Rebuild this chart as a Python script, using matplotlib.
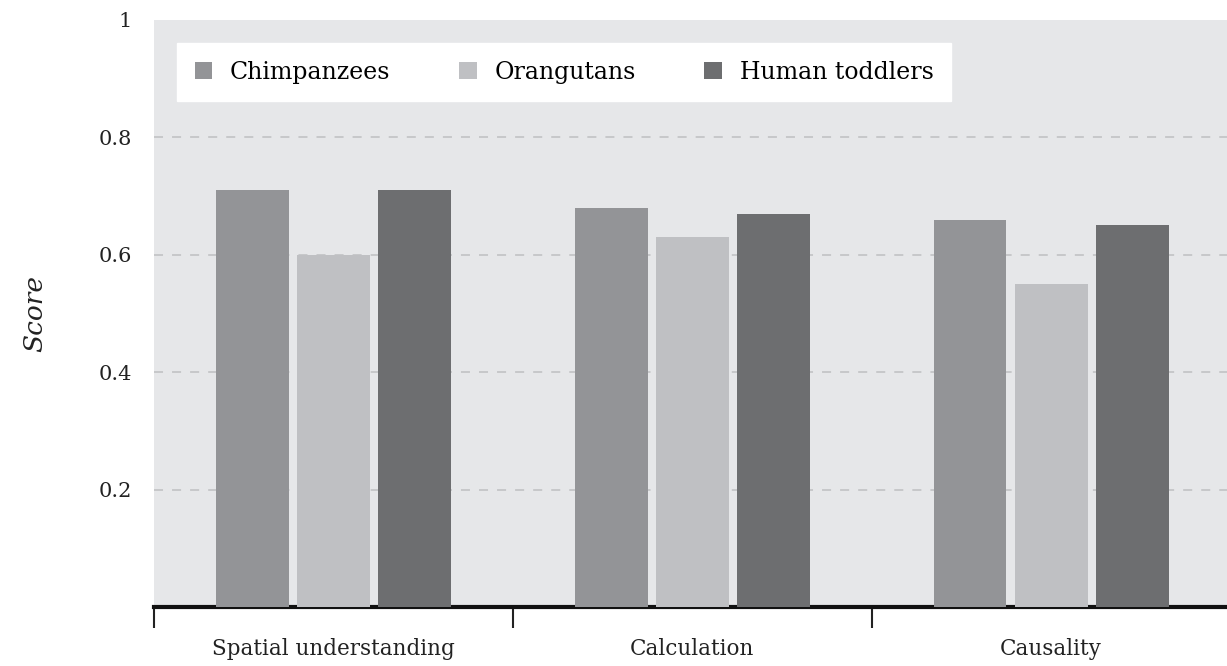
import numpy as np
import matplotlib.pyplot as plt
from matplotlib.patches import Patch

categories = ['Spatial understanding', 'Calculation', 'Causality']
series = ['Chimpanzees', 'Orangutans', 'Human toddlers']
chimps = [0.71, 0.68, 0.66]
orangs = [0.60, 0.63, 0.55]
humans = [0.71, 0.67, 0.65]
yticks = [0.2, 0.4, 0.6, 0.8, 1]

colors = ['#939497', '#bfc0c3', '#6d6e70']

plt.rcParams['font.family'] = ['DejaVu Serif']

fig = plt.figure(figsize=(12.27, 6.66), dpi=100)
ax = fig.add_axes([0.1255, 0.0886, 0.8745, 0.8814])
ax.set_facecolor('#e6e7e9')

x = np.arange(len(categories))
w = 0.203
step = 0.226
for i, vals in enumerate([chimps, orangs, humans]):
    ax.bar(x + (i - 1) * step, vals, width=w, color=colors[i], zorder=3, label=series[i])

ax.set_ylim(0, 1)
ax.set_xlim(-0.5, 2.49)
ax.set_yticks(yticks)
ax.set_yticklabels(['0.2', '0.4', '0.6', '0.8', '1'], fontsize=15, color='#222222')
ax.tick_params(axis='y', length=0, pad=16)
for y in yticks[:-1]:
    ax.axhline(y, color='#c4c5c7', linestyle=(0, (5, 5)), linewidth=1.3, zorder=1)

ax.set_xticks(x)
ax.set_xticklabels(categories, fontsize=15.5, color='#222222')
ax.tick_params(axis='x', which='major', length=0, pad=22)
ax.set_xticks([-0.5, 0.5, 1.5], minor=True)
ax.tick_params(axis='x', which='minor', length=15, width=1.5, color='#222222', direction='out')

for s in ['top', 'right', 'left']:
    ax.spines[s].set_visible(False)
ax.spines['bottom'].set_linewidth(3)
ax.spines['bottom'].set_color('#111111')

ax.set_ylabel('Score', fontsize=19, style='italic', labelpad=37, color='#222222')

handles = [Patch(facecolor=c, edgecolor='none') for c in colors]
leg = ax.legend(handles, series, loc='upper left', bbox_to_anchor=(0.0214, 0.961), ncol=3,
                fontsize=17, frameon=True, fancybox=False, framealpha=1,
                edgecolor='white', handlelength=0.75, handleheight=0.75,
                columnspacing=2.9, handletextpad=0.75, borderpad=0.75, borderaxespad=0)
leg.get_frame().set_facecolor('white')

fig.savefig('out.png', dpi=100)
